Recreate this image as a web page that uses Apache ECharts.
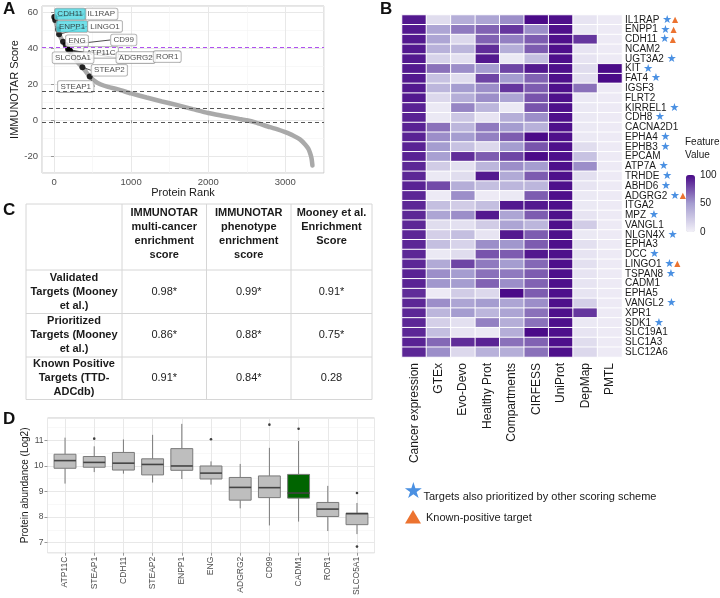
<!DOCTYPE html>
<html>
<head>
<meta charset="utf-8">
<script src="https://cdn.jsdelivr.net/npm/echarts@6/dist/echarts.min.js"></script>
<style>
html, body { margin: 0; padding: 0; background: #fff; }
#main { width: 720px; height: 598px; }
</style>
</head>
<body>
<div id="main"></div>
<script>
// ---- A: IMMUNOTAR score by protein rank
const rankCurve = [
  [0, 57.5], [25, 54], [50, 50.5], [70, 47.5], [110, 44], [150, 41.7], [200, 38.7],
  [260, 34.8], [320, 31.5], [370, 29.4], [420, 26.5], [460, 24.3], [520, 22], [600, 20],
  [700, 18.5], [830, 17.1], [1000, 14.9], [1200, 12.6], [1400, 10.4], [1600, 8.4],
  [1800, 6.2], [2000, 4.0], [2200, 2.4], [2400, 0.8], [2500, 0], [2600, -1], [2700, -2.4],
  [2800, -3.8], [2900, -5], [3000, -6.6], [3100, -8.4], [3190, -10.6], [3260, -13.5],
  [3300, -15.8], [3320, -18], [3340, -21], [3352, -25]
];
const hitNames = ['IL1RAP', 'CDH11', 'ENPP1', 'LINGO1', 'ENG', 'CD99', 'ATP11C', 'SLCO5A1', 'ADGRG2', 'ROR1', 'STEAP2', 'STEAP1'];
const hitRank = [3, 15, 52, 65, 117, 152, 182, 195, 204, 210, 368, 463];
const hitScore = [57.2, 55.5, 50.3, 47.6, 43.5, 41.7, 39.3, 39.0, 38.6, 38.3, 29.4, 24.2];
const cyanHits = ['CDH11', 'ENPP1'];
const purpleCutoff = 40.3;
const grayCutoffs = [16, 6.5, -1];

// ---- B: feature heatmap
const proteins = ['IL1RAP', 'ENPP1', 'CDH11', 'NCAM2', 'UGT3A2', 'KIT', 'FAT4', 'IGSF3', 'FLRT2', 'KIRREL1', 'CDH8', 'CACNA2D1',
  'EPHA4', 'EPHB3', 'EPCAM', 'ATP7A', 'TRHDE', 'ABHD6', 'ADGRG2', 'ITGA2', 'MPZ', 'VANGL1', 'NLGN4X', 'EPHA3', 'DCC',
  'LINGO1', 'TSPAN8', 'CADM1', 'EPHA5', 'VANGL2', 'XPR1', 'SDK1', 'SLC19A1', 'SLC1A3', 'SLC12A6'];
const features = ['Cancer expression', 'GTEx', 'Evo-Devo', 'Healthy Prot', 'Compartments', 'CIRFESS', 'UniProt', 'DepMap', 'PMTL'];
const cancerExpr   = [95, 95, 95, 95, 95, 95, 95, 95, 95, 92, 92, 92, 92, 92, 92, 90, 90, 92, 90, 90, 90, 90, 90, 90, 90, 90, 92, 92, 88, 90, 90, 90, 90, 92, 90];
const gtex         = [12, 45, 45, 38, 18, 65, 28, 35, 15, 5, 5, 65, 55, 50, 48, 22, 5, 78, 4, 30, 45, 12, 20, 30, 5, 42, 55, 52, 4, 55, 35, 20, 30, 68, 55];
const evoDevo      = [40, 62, 15, 35, 10, 55, 12, 50, 40, 58, 25, 35, 50, 28, 88, 10, 12, 40, 55, 22, 55, 10, 30, 18, 12, 80, 50, 50, 22, 45, 50, 10, 8, 88, 15];
const healthyProt  = [45, 70, 70, 88, 95, 50, 80, 55, 55, 35, 8, 62, 60, 15, 72, 35, 95, 30, 4, 30, 95, 22, 8, 55, 75, 62, 65, 70, 15, 50, 35, 60, 5, 92, 38];
const compartments = [55, 85, 60, 40, 5, 80, 50, 85, 45, 5, 40, 50, 72, 50, 80, 55, 42, 35, 5, 95, 45, 45, 95, 52, 72, 50, 62, 55, 100, 45, 45, 40, 40, 65, 40];
const cirfess      = [100, 55, 72, 72, 30, 95, 70, 72, 75, 75, 55, 38, 100, 75, 100, 50, 72, 35, 72, 95, 72, 35, 72, 72, 95, 68, 72, 70, 72, 55, 65, 65, 100, 70, 65];
const uniprot      = [98, 98, 98, 98, 98, 98, 98, 98, 98, 98, 98, 98, 98, 98, 98, 98, 98, 98, 98, 98, 98, 98, 98, 98, 98, 98, 98, 98, 98, 98, 98, 98, 98, 98, 98];
const depmap       = [8, 5, 85, 8, 8, 12, 10, 65, 5, 5, 5, 5, 5, 12, 28, 55, 10, 8, 5, 5, 8, 22, 5, 10, 8, 10, 8, 8, 8, 20, 85, 5, 8, 12, 15];
const pmtl         = [4, 4, 4, 4, 4, 100, 100, 4, 4, 4, 4, 4, 4, 4, 4, 4, 4, 4, 4, 4, 4, 4, 4, 4, 4, 4, 4, 4, 4, 4, 4, 4, 4, 4, 4];
const alsoPrioritized = ['IL1RAP', 'ENPP1', 'CDH11', 'UGT3A2', 'KIT', 'FAT4', 'KIRREL1', 'CDH8', 'EPHA4', 'EPHB3', 'ATP7A', 'TRHDE',
  'ABHD6', 'ADGRG2', 'MPZ', 'NLGN4X', 'DCC', 'LINGO1', 'TSPAN8', 'VANGL2', 'SDK1'];
const knownPositive = ['IL1RAP', 'ENPP1', 'CDH11', 'ADGRG2', 'LINGO1'];

// ---- C: enrichment table
const tableHeader = ['', 'IMMUNOTAR\nmulti-cancer\nenrichment\nscore', 'IMMUNOTAR\nphenotype\nenrichment\nscore', 'Mooney et al.\nEnrichment\nScore'];
const tableRows = ['Validated\nTargets (Mooney\net al.)', 'Prioritized\nTargets (Mooney\net al.)', 'Known Positive\nTargets (TTD-\nADCdb)'];
const multiCancerScore = ['0.98*', '0.86*', '0.91*'];
const phenotypeScore = ['0.99*', '0.88*', '0.84*'];
const mooneyScore = ['0.91*', '0.75*', '0.28'];

// ---- D: protein abundance boxplots
const boxNames = ['ATP11C', 'STEAP1', 'CDH11', 'STEAP2', 'ENPP1', 'ENG', 'ADGRG2', 'CD99', 'CADM1', 'ROR1', 'SLCO5A1'];
const boxLow  = [9.31, 9.76, 9.70, 9.35, 9.49, 9.27, 8.34, 7.67, 7.82, 7.45, 7.33];
const boxQ1   = [9.91, 9.95, 9.84, 9.65, 9.83, 9.49, 8.66, 8.76, 8.74, 8.02, 7.70];
const boxMed  = [10.21, 10.14, 10.11, 10.06, 10.0, 9.72, 9.16, 9.15, 8.94, 8.31, 8.13];
const boxQ3   = [10.46, 10.37, 10.53, 10.28, 10.68, 10.0, 9.55, 9.61, 9.67, 8.57, 8.15];
const boxHigh = [11.11, 10.77, 11.04, 11.22, 11.65, 10.18, 10.08, 10.71, 10.98, 9.22, 8.55];
const outlierName = ['STEAP1', 'ENG', 'CD99', 'CADM1', 'SLCO5A1', 'SLCO5A1'];
const outlierValue = [11.07, 11.05, 11.62, 11.46, 8.94, 6.84];
const highlightBox = 'CADM1';

const FONT = 'Liberation Sans, Arial, sans-serif';
const SYM = 'DejaVu Sans';
const tickGray = '#4d4d4d';

const chart = echarts.init(document.getElementById('main'), null, { renderer: 'canvas' });

// label offsets (px) for the repelled labels in panel A
const labelShift = {
  IL1RAP: [47, -3], CDH11: [15, -6], ENPP1: [14, -3], LINGO1: [46, -8], ENG: [14, -1], CD99: [58, -5],
  ATP11C: [33, 3], SLCO5A1: [4, 8], ADGRG2: [66, 7], ROR1: [97, 5.5], STEAP2: [27, 3], STEAP1: [-14, 10]
};

const featureCols = [cancerExpr, gtex, evoDevo, healthyProt, compartments, cirfess, uniprot, depmap, pmtl];
const heatData = [];
featureCols.forEach((col, i) => col.forEach((v, j) => heatData.push([i, j, v])));

const boxData = boxNames.map((n, i) => [i + 1, boxLow[i], boxQ1[i], boxMed[i], boxQ3[i], boxHigh[i], n === highlightBox ? 1 : 0]);
const outlierData = outlierName.map((n, i) => [boxNames.indexOf(n) + 1, outlierValue[i]]);

function panelGridAxis(extra) {
  return Object.assign({
    axisLine: { show: false },
    axisTick: { show: true, length: 3, lineStyle: { color: '#999' } },
    axisLabel: { color: tickGray, fontSize: 9.5, fontFamily: FONT, showMinLabel: false, showMaxLabel: false, margin: 4,
      formatter: v => String(v) },
    splitLine: { show: true, lineStyle: { color: '#e8e8e8', width: 1 } },
    minorTick: { show: false, splitNumber: 2 },
    minorSplitLine: { show: true, lineStyle: { color: '#f4f4f4', width: 0.6 } },
    nameTextStyle: { color: '#1a1a1a', fontSize: 11, fontFamily: FONT },
    nameLocation: 'middle'
  }, extra);
}

function renderBox(params, api) {
  const x = api.value(0);
  const lo = api.coord([x, api.value(1)]);
  const q1 = api.coord([x, api.value(2)]);
  const md = api.coord([x, api.value(3)]);
  const q3 = api.coord([x, api.value(4)]);
  const hi = api.coord([x, api.value(5)]);
  const half = api.size([0.75, 0])[0] / 2;
  const fill = api.value(6) ? '#006400' : '#bebebe';
  const stroke = '#7a7a7a';
  return {
    type: 'group',
    children: [
      { type: 'line', shape: { x1: lo[0], y1: lo[1], x2: q1[0], y2: q1[1] }, style: { stroke: stroke, lineWidth: 1 } },
      { type: 'line', shape: { x1: q3[0], y1: q3[1], x2: hi[0], y2: hi[1] }, style: { stroke: stroke, lineWidth: 1 } },
      { type: 'rect', shape: { x: q3[0] - half, y: q3[1], width: half * 2, height: q1[1] - q3[1] }, style: { fill: fill, stroke: stroke, lineWidth: 1 } },
      { type: 'line', shape: { x1: md[0] - half, y1: md[1], x2: md[0] + half, y2: md[1] }, style: { stroke: '#444', lineWidth: 1.6 } }
    ]
  };
}

// table graphic
const colX = [26, 122, 206.5, 291, 372];
const rowY = [204, 270, 313.5, 357, 399.5];
const tableEls = [];
rowY.forEach(y => tableEls.push({ type: 'line', shape: { x1: colX[0], y1: y, x2: colX[4], y2: y }, style: { stroke: '#d6d6d6', lineWidth: 1 } }));
colX.forEach(x => tableEls.push({ type: 'line', shape: { x1: x, y1: rowY[0], x2: x, y2: rowY[4] }, style: { stroke: '#d6d6d6', lineWidth: 1 } }));
tableHeader.forEach((t, i) => {
  if (!t) return;
  tableEls.push({ type: 'text', x: (colX[i] + colX[i + 1]) / 2, y: 205.5,
    style: { text: t, fill: '#1a1a1a', font: 'bold 11px ' + FONT, align: 'center', verticalAlign: 'top', lineHeight: 14 } });
});
const valueCols = [multiCancerScore, phenotypeScore, mooneyScore];
tableRows.forEach((t, r) => {
  const cy = (rowY[r + 1] + rowY[r + 2]) / 2;
  tableEls.push({ type: 'text', x: (colX[0] + colX[1]) / 2, y: cy,
    style: { text: t, fill: '#1a1a1a', font: 'bold 11px ' + FONT, align: 'center', verticalAlign: 'middle', lineHeight: 14 } });
  valueCols.forEach((col, c) => {
    tableEls.push({ type: 'text', x: (colX[c + 1] + colX[c + 2]) / 2, y: cy,
      style: { text: col[r], fill: '#222', font: '11px ' + FONT, align: 'center', verticalAlign: 'middle' } });
  });
});

function panelLetter(ch, x, y) {
  return { type: 'text', x: x, y: y, style: { text: ch, fill: '#111', font: 'bold 17px ' + FONT, verticalAlign: 'top' } };
}

const option = {
  animation: false,
  backgroundColor: '#fff',
  textStyle: { fontFamily: FONT },
  grid: [
    { left: 42, top: 6, width: 282, height: 167, show: true, borderColor: '#c8c8c8', borderWidth: 1, backgroundColor: '#fff' },
    { left: 402, top: 15, width: 220, height: 342, show: false },
    { left: 686, top: 175, width: 9, height: 57, show: false },
    { left: 47.5, top: 418, width: 327, height: 145, show: true, borderColor: '#c8c8c8', borderWidth: 1, backgroundColor: '#fff' }
  ],
  xAxis: [
    panelGridAxis({ gridIndex: 0, type: 'value', min: -156, max: 3502, name: 'Protein Rank', nameGap: 11 }),
    { gridIndex: 1, type: 'category', data: features, position: 'bottom',
      axisLine: { show: false }, axisTick: { show: false }, splitLine: { show: false },
      axisLabel: { rotate: 90, fontSize: 12, color: '#1a1a1a', margin: 6, fontFamily: FONT, interval: 0 } },
    { gridIndex: 2, type: 'value', min: 0, max: 1, show: false },
    panelGridAxis({ gridIndex: 3, type: 'value', min: 0.4, max: 11.6, splitNumber: 11,
      minorSplitLine: { show: false },
      axisLabel: { color: tickGray, fontSize: 8.5, fontFamily: FONT, rotate: 90, margin: 4, showMinLabel: false, showMaxLabel: false,
        formatter: v => (Number.isInteger(v) && boxNames[v - 1]) ? boxNames[v - 1] : '' } })
  ],
  yAxis: [
    panelGridAxis({ gridIndex: 0, type: 'value', min: -29.2, max: 63.3, name: 'IMMUNOTAR Score', nameGap: 16, nameRotate: 90 }),
    { gridIndex: 1, type: 'category', data: proteins, inverse: true, position: 'right',
      axisLine: { show: false }, axisTick: { show: false }, splitLine: { show: false },
      axisLabel: { fontSize: 10, color: '#1a1a1a', margin: 3, fontFamily: FONT, interval: 0,
        formatter: v => v + (alsoPrioritized.includes(v) ? ' {s|★}' : '') + (knownPositive.includes(v) ? '{t|▲}' : ''),
        rich: { s: { color: '#4a90e2', fontSize: 11, fontFamily: SYM }, t: { color: '#ec7330', fontSize: 8, fontFamily: SYM } } } },
    { gridIndex: 2, type: 'value', min: 0, max: 100, interval: 50, position: 'right',
      axisLine: { show: false }, splitLine: { show: false },
      axisTick: { show: true, inside: true, length: 2, lineStyle: { color: '#fff' } },
      axisLabel: { fontSize: 10, color: '#1a1a1a', margin: 5, fontFamily: FONT } },
    panelGridAxis({ gridIndex: 3, type: 'value', min: 6.6, max: 11.88,
      axisLabel: { color: tickGray, fontSize: 8.5, fontFamily: FONT, margin: 4, showMinLabel: false, showMaxLabel: false },
      name: 'Protein abundance (Log2)', nameGap: 14, nameRotate: 90,
      nameTextStyle: { color: '#1a1a1a', fontSize: 10, fontFamily: FONT } })
  ],
  visualMap: {
    type: 'continuous', seriesIndex: 2, min: 0, max: 100, calculable: false, orient: 'vertical',
    left: 686, top: 175, itemWidth: 9, itemHeight: 57, padding: 0, text: null, showLabel: false,
    inRange: { color: ['#f3f1f8', '#a59dd0', '#4a0a88'] }
  },
  series: [
    {
      type: 'line', xAxisIndex: 0, yAxisIndex: 0, data: rankCurve, symbol: 'none', smooth: 0.2,
      lineStyle: { color: '#a9a9a9', width: 4.5, cap: 'round' },
      markLine: {
        symbol: 'none', silent: true, label: { show: false },
        data: [{ yAxis: purpleCutoff, lineStyle: { color: '#b050f0', type: [4, 3], width: 1 } }]
          .concat(grayCutoffs.map(v => ({ yAxis: v, lineStyle: { color: '#555', type: [4, 3], width: 1 } })))
      },
      z: 2
    },
    {
      type: 'scatter', xAxisIndex: 0, yAxisIndex: 0, symbolSize: 6,
      itemStyle: { color: '#000' },
      data: hitNames.map((n, i) => ({
        name: n, value: [hitRank[i], hitScore[i]],
        label: cyanHits.includes(n) ? { backgroundColor: '#4fd8e4' } : undefined
      })),
      label: {
        show: true, position: 'inside', formatter: p => p.name,
        fontSize: 8, color: '#222', fontFamily: FONT,
        backgroundColor: '#fff', borderColor: '#999', borderWidth: 0.8, borderRadius: 2, padding: [1.5, 2.5]
      },
      labelLayout: p => {
        const s = labelShift[hitNames[p.dataIndex]];
        return { dx: s[0], dy: s[1] };
      },
      labelLine: { show: true, lineStyle: { color: '#222', width: 0.8 } },
      z: 4
    },
    {
      type: 'heatmap', xAxisIndex: 1, yAxisIndex: 1, data: heatData,
      itemStyle: { borderColor: '#fff', borderWidth: 1 }
    },
    {
      type: 'custom', xAxisIndex: 3, yAxisIndex: 3, data: boxData, renderItem: renderBox, z: 3
    },
    {
      type: 'scatter', xAxisIndex: 3, yAxisIndex: 3, data: outlierData, symbolSize: 2.6,
      itemStyle: { color: '#111' }, z: 4
    }
  ],
  graphic: [
    panelLetter('A', 3, 1),
    panelLetter('B', 380, 1),
    panelLetter('C', 3, 202),
    panelLetter('D', 3, 411),
    { type: 'text', x: 685, y: 135, style: { text: 'Feature\nValue', fill: '#1a1a1a', font: '10px ' + FONT, lineHeight: 13.5, verticalAlign: 'top' } },
    { type: 'text', x: 413.3, y: 492.3, style: { text: '★', fill: '#4a90e2', font: '22px ' + SYM, align: 'center', verticalAlign: 'middle' } },
    { type: 'text', x: 423.5, y: 496.7, style: { text: 'Targets also prioritized by other scoring scheme', fill: '#1a1a1a', font: '11px ' + FONT, verticalAlign: 'middle' } },
    { type: 'polygon', shape: { points: [[413, 510], [421, 523.5], [405, 523.5]] }, style: { fill: '#ec7330' } },
    { type: 'text', x: 426, y: 518.3, style: { text: 'Known-positive target', fill: '#1a1a1a', font: '11px ' + FONT, verticalAlign: 'middle' } }
  ].concat(tableEls)
};

chart.setOption(option);
</script>
</body>
</html>
